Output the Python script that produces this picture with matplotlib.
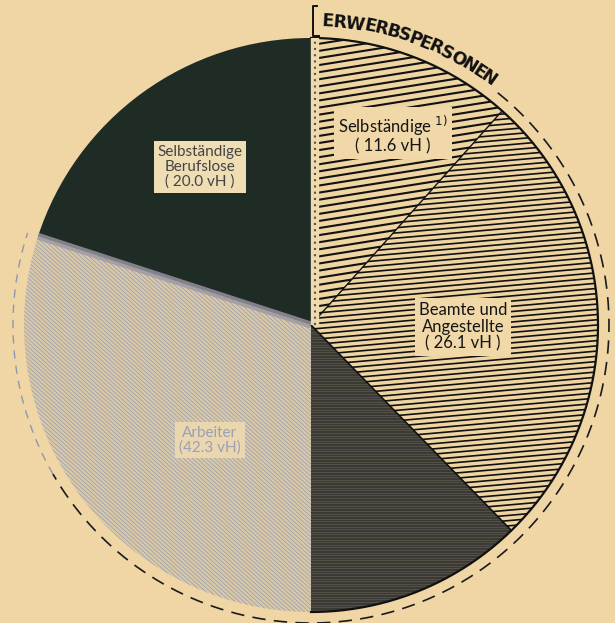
import numpy as np
import matplotlib
matplotlib.use("Agg")
import matplotlib.pyplot as plt
from matplotlib.collections import LineCollection
from matplotlib.textpath import TextPath
from matplotlib.font_manager import FontProperties

# ---- data ----
categories = ["Selbständige", "Beamte und Angestellte", "Arbeiter (dunkler Teil)",
              "Arbeiter", "Selbständige Berufslose"]
shares = [11.6, 26.1, 12.3, 30.0, 20.0]   # vH
label_texts = ["Selbständige $^{1)}$\n( 11.6 vH )",
               "Beamte und\nAngestellte\n( 26.1 vH )",
               "",
               "Arbeiter\n(42.3 vH)",
               "Selbständige\nBerufslose\n( 20.0 vH )"]
group_title = "ERWERBSPERSONEN"
erwerbs_share = 11.6 + 26.1 + 42.3      # vH

W, H = 615, 623
BG = "#f0d6a4"
fig = plt.figure(figsize=(W / 100, H / 100), dpi=100, facecolor=BG)
ax = fig.add_axes([0, 0, 1, 1])
ax.set_facecolor(BG)

cx, cy, R = 311, 623 - 325, 287

face = ["#efd5a2", "#efd5a2", "#3a3935", "#d9c9aa", "#1f2b25"]
wedges, _ = ax.pie(shares, startangle=90, counterclock=False, center=(cx, cy),
                   radius=R, colors=face, frame=True,
                   wedgeprops=dict(linewidth=0))

def hatch(wedge, angle_deg, spacing, color, lw, alpha=1.0):
    a = np.deg2rad(angle_deg)
    d = np.array([np.cos(a), np.sin(a)])
    n = np.array([-np.sin(a), np.cos(a)])
    segs = []
    for k in np.arange(-R * 1.5, R * 1.5, spacing):
        p0 = np.array([cx, cy]) + n * k - d * R * 1.5
        p1 = np.array([cx, cy]) + n * k + d * R * 1.5
        segs.append([p0, p1])
    lc = LineCollection(segs, colors=color, linewidths=lw, alpha=alpha, zorder=2)
    ax.add_collection(lc)
    lc.set_clip_path(wedge)

hatch(wedges[0], 9, 7.0, "#111111", 1.5)
hatch(wedges[1], 5, 5.2, "#111111", 1.2)
hatch(wedges[2], 0, 2.6, "#6a6453", 0.5, 0.8)
hatch(wedges[3], -42, 3.0, "#8790aa", 0.5, 0.8)

# boundaries
bounds = 90 - 360 * np.cumsum([0] + shares) / sum(shares)
def radial(theta, **kw):
    t = np.deg2rad(theta)
    ax.plot([cx, cx + R * np.cos(t)], [cy, cy + R * np.sin(t)], **kw)

radial(bounds[1], color="#111111", lw=1.0, zorder=3)
radial(bounds[2], color="#111111", lw=1.2, zorder=3)
radial(bounds[4], color="#9c98a4", lw=5, alpha=0.8, zorder=3, solid_capstyle="butt")
# pie outline on the right side
th = np.linspace(np.deg2rad(bounds[0]), np.deg2rad(bounds[3]), 300)
ax.plot(cx + R * np.cos(th), cy + R * np.sin(th), color="#111111", lw=1.6, zorder=3)
# comb edge along 12 o'clock
ax.plot([cx + 4, cx + 4], [cy, cy + R], color="#efd9ad", lw=6, zorder=3,
        solid_capstyle="butt")
l, = ax.plot([cx + 4, cx + 4], [cy, cy + R], color="#555555", lw=1.5, zorder=4)
l.set_dashes((1, 2))

# bracket at the top
ax.plot([cx + 6, cx + 2, cx + 2, cx + 8], [cy + R + 32, cy + R + 32, cy + R + 2, cy + R + 2],
        color="#111111", lw=1.4, zorder=4)

# curved group title, spaced by glyph widths
fp = FontProperties(family="DejaVu Sans", weight="bold")
fs = 12.5
px_per_pt = 100 / 72
widths = []
for ch in group_title:
    tp = TextPath((0, 0), ch, size=fs * px_per_pt, prop=fp)
    bb = tp.get_extents()
    widths.append(bb.width)
gap = 1.3
r_txt = 304
total = sum(widths) + gap * (len(widths) - 1)
a0 = 87.7
pos = 0.0
for ch, w in zip(group_title, widths):
    s = pos + w / 2
    a = a0 - np.rad2deg(s / r_txt)
    t = np.deg2rad(a)
    ax.text(cx + r_txt * np.cos(t), cy + r_txt * np.sin(t), ch, rotation=a - 90,
            ha="center", va="center", fontsize=fs, fontproperties=fp,
            color="#111111", zorder=5)
    pos += w + gap
title_end = a0 - np.rad2deg(total / r_txt)

# dashed arc for Erwerbspersonen
end = 90 - 360 * erwerbs_share / 100
r_d = 298
th = np.linspace(np.deg2rad(title_end - 2), np.deg2rad(-150), 400)
dl, = ax.plot(cx + r_d * np.cos(th), cy + r_d * np.sin(th), color="#1a1a1a",
              lw=1.2, zorder=3)
dl.set_dashes((8, 5))
th = np.linspace(np.deg2rad(-150), np.deg2rad(end), 300)
dl2, = ax.plot(cx + r_d * np.cos(th), cy + r_d * np.sin(th), color="#8e97b0",
               lw=1.0, zorder=3)
dl2.set_dashes((6, 5))

# labels
lab_pos = [(393, 623 - 134), (463, 623 - 327), None, (210, 623 - 440), (200, 623 - 167)]
lab_fc = ["#f0d8a8", "#f0d8a8", None, "#ead7b0", "#efddb4"]
lab_tc = ["#151515", "#151515", None, "#9aa0b6", "#444444"]
lab_fs = [12, 12, None, 11, 11]
for txt, p, fc, tc, fsz in zip(label_texts, lab_pos, lab_fc, lab_tc, lab_fs):
    if not txt:
        continue
    ax.text(p[0], p[1], txt, ha="center", va="center", fontsize=fsz,
            family="Lato", color=tc, linespacing=1.05, zorder=6,
            bbox=dict(boxstyle="square,pad=0.25", fc=fc, ec="none"))

ax.set_xlim(0, W)
ax.set_ylim(0, H)
ax.set_aspect("equal")
ax.axis("off")
fig.savefig("out.png", dpi=100, facecolor=BG)
